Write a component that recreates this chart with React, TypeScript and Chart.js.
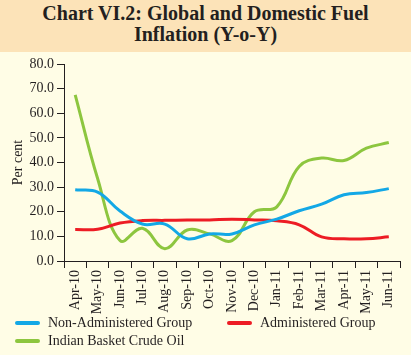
import React, { useEffect, useRef } from "react";
import { Chart, registerables } from "chart.js";

Chart.register(...registerables);

const categories = [
  "Apr-10", "May-10", "Jun-10", "Jul-10", "Aug-10", "Sep-10", "Oct-10", "Nov-10",
  "Dec-10", "Jan-11", "Feb-11", "Mar-11", "Apr-11", "May-11", "Jun-11",
];
const nonAdministered = [28.9, 28.0, 20.3, 15.0, 15.0, 9.0, 11.0, 11.0, 14.7, 17.0, 20.4, 23.1, 26.9, 27.8, 29.4];
const administered = [12.8, 12.9, 15.4, 16.4, 16.5, 16.6, 16.7, 17.0, 16.7, 16.3, 14.7, 9.8, 9.0, 9.0, 9.8];
const crudeOil = [67.5, 33.5, 8.3, 13.3, 5.0, 12.6, 11.0, 8.3, 20.0, 22.0, 38.4, 41.8, 40.8, 45.8, 48.1];

const seriesNames = ["Non-Administered Group", "Administered Group", "Indian Basket Crude Oil"];
const seriesColors = ["#13a8e6", "#ed1c24", "#8dc63f"];

const FONT = '"Liberation Serif", "Times New Roman", serif';
const TEXT = "#231f20";

export default function App() {
  const ref = useRef<HTMLCanvasElement | null>(null);

  useEffect(() => {
    if (!ref.current) return;
    const font = { family: FONT, size: 14 };
    const chart = new Chart(ref.current, {
      type: "line",
      data: {
        labels: categories,
        datasets: [
          { label: seriesNames[0], data: nonAdministered, borderColor: seriesColors[0] },
          { label: seriesNames[1], data: administered, borderColor: seriesColors[1] },
          { label: seriesNames[2], data: crudeOil, borderColor: seriesColors[2] },
        ].map((d) => ({ ...d, borderWidth: 3, pointRadius: 0, tension: 0.4, fill: false })),
      },
      options: {
        animation: false,
        responsive: false,
        layout: { padding: { top: 12, right: 11, left: 0, bottom: 0 } },
        plugins: { legend: { display: false }, tooltip: { enabled: false } },
        scales: {
          x: {
            offset: true,
            grid: { offset: true, drawOnChartArea: false, tickLength: 7, color: TEXT, lineWidth: 1 },
            border: { color: TEXT, width: 1 },
            ticks: { autoSkip: false, maxRotation: 90, minRotation: 90, font, color: TEXT, padding: 2 },
            afterFit: (s: any) => { s.height = 94; },
          },
          y: {
            min: 0,
            max: 80,
            grid: { drawOnChartArea: false, tickLength: 7, color: TEXT, lineWidth: 1 },
            border: { color: TEXT, width: 1 },
            ticks: { stepSize: 10, font, color: TEXT, padding: 3, callback: (v: any) => Number(v).toFixed(1) },
            title: { display: true, text: "Per cent", font, color: TEXT, padding: { top: 10, bottom: 0 } },
            afterFit: (s: any) => { s.width = 64; },
          },
        },
      },
    });
    return () => chart.destroy();
  }, []);

  const legendItem = (i: number, left: number, top: number) => (
    <div key={i} style={{ position: "absolute", left, top, height: 16, display: "flex", alignItems: "center" }}>
      <div style={{ width: 25, height: 4, borderRadius: 2, background: seriesColors[i], marginRight: 8 }} />
      <span style={{ font: `14px ${FONT}`, lineHeight: "16px", color: TEXT, whiteSpace: "nowrap" }}>{seriesNames[i]}</span>
    </div>
  );

  return (
    <div style={{ position: "fixed", left: 0, top: 0, width: 411, height: 355, background: "#fffde6", overflow: "hidden" }}>
      <div
        style={{
          height: 52,
          background: "#fce3b8",
          boxSizing: "border-box",
          paddingTop: 3,
          textAlign: "center",
          font: `bold 20px ${FONT}`,
          lineHeight: "21px",
          color: TEXT,
        }}
      >
        Chart VI.2: Global and Domestic Fuel
        <br />
        Inflation (Y-o-Y)
      </div>
      <canvas ref={ref} width={411} height={303} style={{ display: "block", width: 411, height: 303 }} />
      {legendItem(0, 15, 315)}
      {legendItem(1, 227, 315)}
      {legendItem(2, 15, 333)}
    </div>
  );
}
